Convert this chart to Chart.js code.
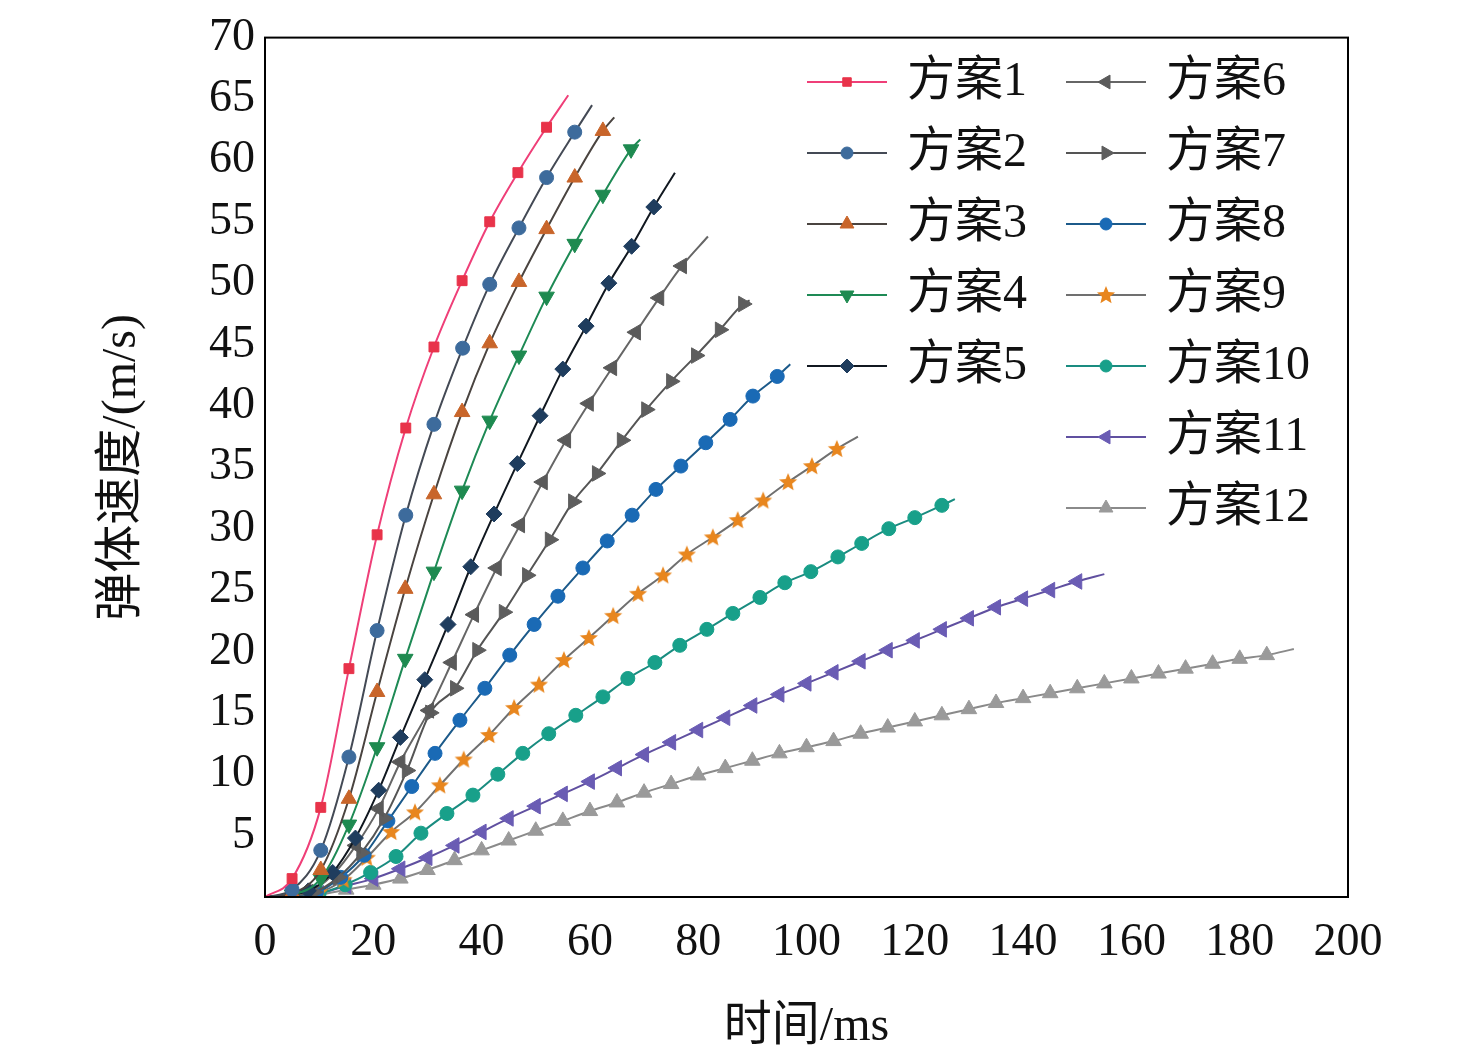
<!DOCTYPE html>
<html>
<head>
<meta charset="utf-8">
<script src="https://cdn.jsdelivr.net/npm/chart.js@4.4.1/dist/chart.umd.min.js"></script>
<style>
  body { margin: 0; background: #fff; }
  #wrap { width: 1476px; height: 1060px; }
</style>
</head>
<body>
<div id="wrap"><canvas id="grafico" width="1476" height="1060"></canvas></div>
<script>
var nomes = ['方案1','方案2','方案3','方案4','方案5','方案6','方案7','方案8','方案9','方案10','方案11','方案12'];
var xTicks = [0, 20, 40, 60, 80, 100, 120, 140, 160, 180, 200];

var t1 = [0, 5, 10.3, 15.5, 20.7, 26, 31.2, 36.4, 41.5, 46.7, 52, 56];
var v1 = [0, 1.5, 7.3, 18.6, 29.5, 38.2, 44.8, 50.2, 55, 59, 62.7, 65.3];
var t2 = [0, 5, 10.3, 15.5, 20.7, 26, 31.2, 36.5, 41.5, 46.9, 52, 57.2, 60.4];
var v2 = [0, 0.6, 3.8, 11.4, 21.7, 31.1, 38.5, 44.7, 49.9, 54.5, 58.6, 62.3, 64.5];
var t3 = [0, 5, 10.3, 15.5, 20.7, 25.9, 31.2, 36.4, 41.5, 46.9, 52, 57.2, 62.4, 64.5];
var v3 = [0, 0.3, 2.2, 8, 16.7, 25.1, 32.8, 39.5, 45.1, 50.1, 54.4, 58.6, 62.4, 63.5];
var t4 = [0, 5, 10.3, 15.5, 20.7, 25.9, 31.2, 36.4, 41.5, 46.9, 52, 57.2, 62.4, 67.6, 69.3];
var v4 = [0, 0.2, 1.5, 5.9, 12.2, 19.4, 26.5, 33.1, 38.8, 44.1, 48.9, 53.2, 57.2, 60.9, 61.7];
var t5 = [0, 8, 12.5, 16.7, 21, 25, 29.5, 33.8, 38, 42.3, 46.6, 50.8, 55, 59.3, 63.5, 67.7, 71.8, 75.7];
var v5 = [0, 0.5, 2, 4.8, 8.7, 13, 17.7, 22.2, 26.9, 31.2, 35.3, 39.2, 43, 46.5, 50, 53, 56.2, 59];
var t6 = [0, 8, 12.5, 16.8, 21, 25, 30.3, 34.5, 38.6, 42.8, 47.1, 51.3, 55.6, 59.8, 64.1, 68.5, 72.8, 77, 81.8];
var v6 = [0, 0.4, 1.8, 4.2, 7.2, 11, 15.2, 19.1, 23, 26.8, 30.3, 33.8, 37.2, 40.2, 43.1, 46, 48.8, 51.4, 53.8];
var t7 = [0, 9, 13.5, 17.8, 22, 26.2, 30.5, 35.1, 39.2, 44.1, 48.4, 52.6, 56.9, 61.3, 65.9, 70.4, 75, 79.6, 84, 88.3, 89.5];
var v7 = [0, 0.4, 1.6, 3.6, 6.4, 10.3, 15, 17, 20.1, 23.2, 26.2, 29.1, 32.2, 34.5, 37.2, 39.7, 42, 44.1, 46.2, 48.3, 48.6];
var t8 = [0, 9.5, 14, 18.3, 22.7, 27.1, 31.4, 36, 40.6, 45.2, 49.7, 54.1, 58.7, 63.2, 67.8, 72.2, 76.8, 81.4, 85.9, 90.1, 94.6, 97];
var v8 = [0, 0.4, 1.6, 3.4, 6.2, 9, 11.7, 14.4, 17, 19.7, 22.2, 24.5, 26.8, 29, 31.1, 33.2, 35.1, 37, 38.9, 40.8, 42.4, 43.4];
var t9 = [0, 10, 14.5, 18.8, 23.3, 27.7, 32.3, 36.7, 41.4, 46, 50.6, 55.2, 59.8, 64.3, 68.9, 73.5, 77.9, 82.7, 87.3, 92, 96.6, 101, 105.6, 109.5];
var v9 = [0, 0.4, 1.4, 3.2, 5.3, 6.9, 9.1, 11.2, 13.2, 15.4, 17.3, 19.3, 21.1, 22.9, 24.7, 26.2, 27.9, 29.3, 30.7, 32.3, 33.8, 35.1, 36.5, 37.5];
var t10 = [0, 10, 14.8, 19.5, 24.2, 28.8, 33.6, 38.4, 43, 47.6, 52.4, 57.4, 62.4, 67, 72, 76.6, 81.6, 86.4, 91.4, 96, 100.8, 105.8, 110.2, 115.2, 120, 125, 127.4];
var v10 = [0, 0.3, 1, 2, 3.3, 5.2, 6.8, 8.3, 10, 11.7, 13.3, 14.8, 16.3, 17.8, 19.1, 20.5, 21.8, 23.1, 24.4, 25.6, 26.5, 27.7, 28.8, 30, 30.9, 31.9, 32.4];
var t11 = [0, 10, 15, 20, 25, 30, 35, 40, 45, 50, 55, 60, 65, 70, 75, 80, 85, 90, 95, 100, 105, 110, 115, 120, 125, 130, 135, 140, 145, 150, 155];
var v11 = [0, 0.3, 0.9, 1.5, 2.3, 3.2, 4.2, 5.3, 6.4, 7.4, 8.4, 9.4, 10.5, 11.6, 12.6, 13.6, 14.6, 15.6, 16.5, 17.4, 18.3, 19.2, 20.1, 20.9, 21.8, 22.7, 23.6, 24.3, 25, 25.7, 26.3];
var t12 = [0, 10, 15, 20, 25, 30, 35, 40, 45, 50, 55, 60, 65, 70, 75, 80, 85, 90, 95, 100, 105, 110, 115, 120, 125, 130, 135, 140, 145, 150, 155, 160, 165, 170, 175, 180, 185, 190];
var v12 = [0, 0.2, 0.6, 1, 1.5, 2.2, 3, 3.8, 4.6, 5.4, 6.2, 7, 7.7, 8.5, 9.2, 9.9, 10.5, 11.1, 11.7, 12.2, 12.7, 13.3, 13.8, 14.3, 14.8, 15.3, 15.8, 16.2, 16.6, 17, 17.4, 17.8, 18.2, 18.6, 19, 19.4, 19.7, 20.2];

var tempos = [t1, t2, t3, t4, t5, t6, t7, t8, t9, t10, t11, t12];
var velocidades = [v1, v2, v3, v4, v5, v6, v7, v8, v9, v10, v11, v12];

var coresMarcador = ['#e8334a','#3d6b9c','#c8652a','#1e8a50','#1f3d5e','#5a5a5a','#5e5e5e','#1a6ab5','#e8861e','#18a08a','#6a5cb4','#9a9a9a'];
var coresLinha = ['#ef3f78','#444a55','#4a4440','#1e8a55','#111820','#666666','#555555','#1c5a8a','#707070','#1a8c80','#6050a0','#8a8a8a'];
var raios = [7, 7, 9, 9, 8, 9, 9, 7, 9, 7, 9, 9];

// estrela cheia para o 方案9
function criarEstrela(cor) {
    var c = document.createElement('canvas');
    c.width = 20; c.height = 20;
    var g = c.getContext('2d');
    g.beginPath();
    for (var i = 0; i < 10; i++) {
        var r = i % 2 === 0 ? 9.5 : 4.2;
        var a = -Math.PI / 2 + i * Math.PI / 5;
        g.lineTo(10 + r * Math.cos(a), 10.5 + r * Math.sin(a));
    }
    g.closePath();
    g.fillStyle = cor;
    g.fill();
    return c;
}

var estilos = [
    { s: 'rect', rot: 0 }, { s: 'circle', rot: 0 }, { s: 'triangle', rot: 0 }, { s: 'triangle', rot: 180 },
    { s: 'rectRot', rot: 0 }, { s: 'triangle', rot: -90 }, { s: 'triangle', rot: 90 }, { s: 'circle', rot: 0 },
    { s: criarEstrela('#e8861e'), rot: 0 }, { s: 'circle', rot: 0 }, { s: 'triangle', rot: -90 }, { s: 'triangle', rot: 0 }
];

var datasets = nomes.map(function(nome, k) {
    var n = tempos[k].length;
    return {
        label: nome,
        data: tempos[k].map(function(t, i) { return { x: t, y: velocidades[k][i] }; }),
        borderColor: coresLinha[k],
        backgroundColor: coresMarcador[k],
        pointBackgroundColor: coresMarcador[k],
        pointBorderColor: coresMarcador[k],
        borderWidth: 2,
        cubicInterpolationMode: 'monotone',
        pointStyle: estilos[k].s,
        rotation: estilos[k].rot,
        pointRadius: function(ctx) { return (ctx.dataIndex === 0 || ctx.dataIndex === n - 1) ? 0 : raios[k]; },
        pointBorderWidth: 1
    };
});

var serifFont = '"Liberation Serif", "Noto Sans CJK SC", serif';

var legendaPlugin = {
    id: 'legendaColunas',
    afterDraw: function(chart) {
        var g = chart.ctx;
        g.save();
        g.font = '48px ' + serifFont;
        g.textBaseline = 'middle';
        chart.data.datasets.forEach(function(ds, k) {
            var col = k < 5 ? 0 : 1;
            var row = k < 5 ? k : k - 5;
            var x0 = col === 0 ? 807 : 1066;
            var y = 82 + row * 71;
            g.strokeStyle = ds.borderColor;
            g.lineWidth = 2;
            g.beginPath(); g.moveTo(x0, y); g.lineTo(x0 + 80, y); g.stroke();
            g.fillStyle = ds.pointBackgroundColor;
            g.strokeStyle = ds.pointBorderColor;
            g.lineWidth = 1;
            Chart.helpers.drawPoint(g, { pointStyle: ds.pointStyle, rotation: ds.rotation, radius: raios[k] - 1, borderWidth: 1 }, x0 + 40, y);
            g.fillStyle = '#111';
            g.fillText(ds.label, x0 + 100, y);
        });
        g.restore();
    }
};

var molduraPlugin = {
    id: 'moldura',
    afterDraw: function(chart) {
        var a = chart.chartArea, g = chart.ctx;
        g.save();
        g.strokeStyle = '#000';
        g.lineWidth = 2;
        g.strokeRect(a.left, a.top, a.right - a.left, a.bottom - a.top);
        g.restore();
    }
};

new Chart(document.getElementById('grafico').getContext('2d'), {
    type: 'line',
    data: { datasets: datasets },
    options: {
        responsive: false,
        animation: false,
        layout: { padding: { top: 32, right: 128, left: 90, bottom: 0 } },
        plugins: { legend: { display: false }, tooltip: { enabled: false } },
        scales: {
            x: {
                type: 'linear', min: 0, max: 200,
                afterBuildTicks: function(s) { s.ticks = xTicks.map(function(v) { return { value: v }; }); },
                afterFit: function(s) { s.height = 163; },
                grid: { display: false, drawTicks: false },
                border: { display: false },
                ticks: { color: '#111', font: { size: 46, family: serifFont }, padding: 18 },
                title: { display: true, text: '时间/ms', color: '#111', font: { size: 48, family: serifFont }, padding: { top: 10 } }
            },
            y: {
                type: 'linear', min: 0, max: 70,
                ticks: { stepSize: 5, color: '#111', font: { size: 46, family: serifFont }, padding: 10,
                    callback: function(v) { return v === 0 ? '' : v; } },
                afterFit: function(s) { s.width = 175; },
                grid: { display: false, drawTicks: false },
                border: { display: false },
                title: { display: true, text: '弹体速度/(m/s)', color: '#111', font: { size: 48, family: serifFont }, padding: { bottom: 0 } }
            }
        }
    },
    plugins: [molduraPlugin, legendaPlugin]
});
</script>
</body>
</html>
